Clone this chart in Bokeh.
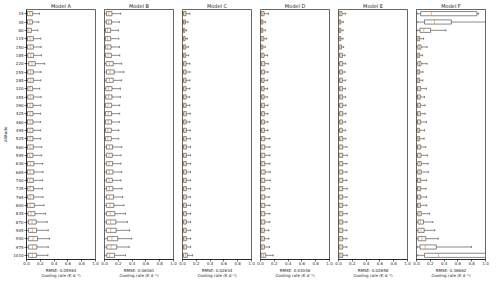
from bokeh.plotting import figure
from bokeh.models import ColumnDataSource, FactorRange, FixedTicker, PrintfTickFormatter, Range1d
from bokeh.layouts import row
from bokeh.embed import file_html
from bokeh.resources import INLINE

altitudes = ["15", "45", "80", "115", "150", "185", "220", "255", "285", "320",
             "355", "390", "425", "460", "495", "525", "560", "595", "630", "665",
             "700", "735", "765", "800", "835", "870", "905", "940", "975", "1010"]
models = ["Model A", "Model B", "Model C", "Model D", "Model E", "Model F"]
rmse = ["0.05984", "0.06361", "0.02634", "0.03046", "0.02658", "0.36662"]
x_ticks = [0.0, 0.2, 0.4, 0.6, 0.8, 1.0]

# Model A
A_lo = [0.0, 0.0, 0.0, 0.0, 0.0, 0.0, 0.0, 0.0, 0.0, 0.0, 0.0, 0.0, 0.0, 0.0, 0.0,
        0.0, 0.0, 0.0, 0.0, 0.0, 0.0, 0.0, 0.0, 0.0, 0.0, 0.0, 0.0, 0.0, 0.0, 0.0]
A_q1 = [0.014, 0.014, 0.005, 0.014, 0.014, 0.019, 0.033, 0.019, 0.019, 0.019,
        0.019, 0.014, 0.014, 0.014, 0.014, 0.014, 0.014, 0.014, 0.014, 0.014,
        0.014, 0.019, 0.019, 0.014, 0.023, 0.028, 0.028, 0.028, 0.028, 0.028]
A_med = [0.052, 0.047, 0.033, 0.052, 0.056, 0.061, 0.080, 0.061, 0.061, 0.052,
         0.056, 0.052, 0.052, 0.052, 0.052, 0.052, 0.052, 0.047, 0.056, 0.052,
         0.047, 0.052, 0.056, 0.052, 0.066, 0.080, 0.085, 0.094, 0.089, 0.085]
A_q3 = [0.089, 0.085, 0.070, 0.099, 0.099, 0.103, 0.127, 0.099, 0.099, 0.089,
        0.099, 0.094, 0.094, 0.094, 0.094, 0.094, 0.099, 0.094, 0.108, 0.108,
        0.099, 0.103, 0.103, 0.113, 0.122, 0.141, 0.146, 0.160, 0.150, 0.146]
A_hi = [0.188, 0.178, 0.164, 0.207, 0.211, 0.216, 0.263, 0.211, 0.207, 0.192,
        0.211, 0.207, 0.202, 0.202, 0.202, 0.202, 0.221, 0.221, 0.235, 0.239,
        0.230, 0.230, 0.239, 0.254, 0.277, 0.300, 0.315, 0.333, 0.315, 0.310]

# Model B
B_lo = [0.0, 0.0, 0.0, 0.0, 0.0, 0.0, 0.0, 0.0, 0.0, 0.0, 0.0, 0.0, 0.0, 0.0, 0.0,
        0.0, 0.0, 0.0, 0.0, 0.0, 0.0, 0.0, 0.0, 0.0, 0.0, 0.0, 0.0, 0.0, 0.0, 0.0]
B_q1 = [0.028, 0.028, 0.014, 0.014, 0.014, 0.014, 0.023, 0.028, 0.023, 0.019,
        0.019, 0.014, 0.014, 0.014, 0.014, 0.014, 0.028, 0.028, 0.028, 0.028,
        0.028, 0.028, 0.028, 0.028, 0.028, 0.028, 0.028, 0.042, 0.033, 0.033]
B_med = [0.061, 0.061, 0.042, 0.042, 0.047, 0.052, 0.070, 0.080, 0.070, 0.056,
         0.056, 0.052, 0.052, 0.052, 0.047, 0.047, 0.070, 0.066, 0.066, 0.070,
         0.066, 0.070, 0.070, 0.080, 0.085, 0.089, 0.089, 0.108, 0.094, 0.075]
B_q3 = [0.108, 0.103, 0.089, 0.089, 0.094, 0.099, 0.127, 0.141, 0.127, 0.108,
        0.108, 0.103, 0.103, 0.103, 0.099, 0.099, 0.117, 0.113, 0.117, 0.122,
        0.113, 0.122, 0.131, 0.136, 0.150, 0.164, 0.169, 0.192, 0.178, 0.146]
B_hi = [0.235, 0.216, 0.202, 0.207, 0.216, 0.221, 0.249, 0.282, 0.249, 0.230,
        0.230, 0.221, 0.221, 0.216, 0.207, 0.207, 0.249, 0.239, 0.239, 0.249,
        0.239, 0.254, 0.263, 0.282, 0.305, 0.333, 0.362, 0.394, 0.357, 0.305]

# Model C
C_lo = [0.0, 0.0, 0.0, 0.0, 0.0, 0.0, 0.0, 0.0, 0.0, 0.0, 0.0, 0.0, 0.0, 0.0, 0.0,
        0.0, 0.0, 0.0, 0.0, 0.0, 0.0, 0.0, 0.0, 0.0, 0.0, 0.0, 0.0, 0.0, 0.0, 0.0]
C_q1 = [0.014, 0.014, 0.014, 0.014, 0.014, 0.014, 0.014, 0.014, 0.014, 0.014,
        0.014, 0.014, 0.014, 0.014, 0.014, 0.014, 0.014, 0.014, 0.014, 0.014,
        0.014, 0.014, 0.014, 0.014, 0.014, 0.014, 0.014, 0.014, 0.014, 0.014]
C_med = [0.033, 0.028, 0.023, 0.023, 0.028, 0.028, 0.033, 0.033, 0.033, 0.033,
         0.033, 0.033, 0.033, 0.033, 0.033, 0.033, 0.033, 0.033, 0.033, 0.033,
         0.033, 0.033, 0.033, 0.033, 0.033, 0.033, 0.033, 0.033, 0.033, 0.042]
C_q3 = [0.052, 0.042, 0.033, 0.038, 0.047, 0.047, 0.052, 0.052, 0.052, 0.052,
        0.052, 0.052, 0.056, 0.052, 0.056, 0.056, 0.056, 0.056, 0.056, 0.056,
        0.056, 0.056, 0.056, 0.056, 0.056, 0.056, 0.056, 0.056, 0.056, 0.070]
C_hi = [0.108, 0.080, 0.061, 0.070, 0.085, 0.089, 0.108, 0.108, 0.108, 0.108,
        0.103, 0.108, 0.113, 0.108, 0.113, 0.113, 0.117, 0.117, 0.117, 0.117,
        0.117, 0.117, 0.113, 0.117, 0.117, 0.117, 0.117, 0.117, 0.117, 0.146]

# Model D
D_lo = [0.0, 0.0, 0.0, 0.0, 0.0, 0.0, 0.0, 0.0, 0.0, 0.0, 0.0, 0.0, 0.0, 0.0, 0.0,
        0.0, 0.0, 0.0, 0.0, 0.0, 0.0, 0.0, 0.0, 0.0, 0.0, 0.0, 0.0, 0.0, 0.0, 0.0]
D_q1 = [0.009, 0.009, 0.009, 0.009, 0.009, 0.009, 0.014, 0.014, 0.014, 0.014,
        0.014, 0.014, 0.014, 0.014, 0.014, 0.014, 0.009, 0.009, 0.009, 0.009,
        0.009, 0.009, 0.009, 0.009, 0.009, 0.009, 0.009, 0.009, 0.009, 0.009]
D_med = [0.030, 0.020, 0.020, 0.028, 0.020, 0.030, 0.035, 0.035, 0.033, 0.033,
         0.033, 0.035, 0.035, 0.035, 0.035, 0.038, 0.035, 0.035, 0.035, 0.038,
         0.035, 0.035, 0.035, 0.035, 0.035, 0.035, 0.033, 0.033, 0.033, 0.042]
D_q3 = [0.052, 0.033, 0.033, 0.047, 0.033, 0.052, 0.061, 0.056, 0.052, 0.052,
        0.052, 0.056, 0.056, 0.056, 0.056, 0.061, 0.061, 0.061, 0.061, 0.066,
        0.061, 0.061, 0.061, 0.061, 0.061, 0.061, 0.056, 0.056, 0.056, 0.075]
D_hi = [0.117, 0.070, 0.070, 0.089, 0.070, 0.103, 0.113, 0.108, 0.103, 0.103,
        0.099, 0.108, 0.108, 0.108, 0.108, 0.136, 0.136, 0.136, 0.136, 0.141,
        0.141, 0.131, 0.127, 0.136, 0.136, 0.136, 0.122, 0.122, 0.131, 0.183]

# Model E
E_lo = [0.0, 0.0, 0.0, 0.0, 0.0, 0.0, 0.0, 0.0, 0.0, 0.0, 0.0, 0.0, 0.0, 0.0, 0.0,
        0.0, 0.0, 0.0, 0.0, 0.0, 0.0, 0.0, 0.0, 0.0, 0.0, 0.0, 0.0, 0.0, 0.0, 0.0]
E_q1 = [0.009, 0.009, 0.009, 0.009, 0.009, 0.014, 0.014, 0.014, 0.014, 0.014,
        0.014, 0.014, 0.014, 0.014, 0.014, 0.014, 0.009, 0.009, 0.009, 0.009,
        0.009, 0.009, 0.009, 0.009, 0.009, 0.009, 0.009, 0.009, 0.009, 0.009]
E_med = [0.030, 0.020, 0.020, 0.020, 0.024, 0.033, 0.035, 0.033, 0.033, 0.033,
         0.033, 0.035, 0.035, 0.033, 0.033, 0.035, 0.035, 0.035, 0.035, 0.035,
         0.035, 0.035, 0.035, 0.035, 0.035, 0.035, 0.035, 0.035, 0.035, 0.035]
E_q3 = [0.052, 0.033, 0.033, 0.033, 0.042, 0.056, 0.061, 0.056, 0.056, 0.056,
        0.056, 0.061, 0.061, 0.056, 0.056, 0.061, 0.061, 0.061, 0.061, 0.061,
        0.061, 0.061, 0.061, 0.061, 0.061, 0.061, 0.061, 0.061, 0.061, 0.061]
E_hi = [0.103, 0.070, 0.066, 0.066, 0.075, 0.094, 0.103, 0.094, 0.103, 0.103,
        0.103, 0.108, 0.108, 0.103, 0.103, 0.108, 0.122, 0.127, 0.122, 0.122,
        0.122, 0.127, 0.122, 0.122, 0.127, 0.122, 0.122, 0.122, 0.122, 0.127]

# Model F
F_lo = [0.010, 0.010, 0.010, 0.0, 0.0, 0.0, 0.0, 0.0, 0.0, 0.0, 0.0, 0.0, 0.0, 0.0, 0.0,
        0.0, 0.0, 0.0, 0.0, 0.0, 0.0, 0.0, 0.0, 0.0, 0.0, 0.0, 0.0, 0.0, 0.010, 0.010]
F_q1 = [0.060, 0.116, 0.051, 0.009, 0.019, 0.009, 0.019, 0.009, 0.009, 0.014,
        0.014, 0.014, 0.014, 0.014, 0.009, 0.009, 0.014, 0.014, 0.019, 0.019,
        0.014, 0.014, 0.014, 0.014, 0.019, 0.023, 0.023, 0.023, 0.051, 0.116]
F_med = [0.218, 0.260, 0.106, 0.028, 0.042, 0.028, 0.042, 0.028, 0.028, 0.035,
         0.033, 0.033, 0.033, 0.035, 0.028, 0.028, 0.035, 0.037, 0.042, 0.042,
         0.035, 0.035, 0.035, 0.033, 0.042, 0.056, 0.065, 0.079, 0.125, 0.320]
F_q3 = [0.875, 0.505, 0.204, 0.046, 0.065, 0.046, 0.065, 0.046, 0.046, 0.060,
        0.056, 0.056, 0.056, 0.060, 0.046, 0.046, 0.060, 0.065, 0.069, 0.069,
        0.060, 0.060, 0.060, 0.056, 0.069, 0.102, 0.111, 0.134, 0.287, 1.050]
F_hi = [0.900, 1.200, 0.426, 0.102, 0.153, 0.088, 0.153, 0.093, 0.093, 0.144,
        0.116, 0.125, 0.125, 0.144, 0.116, 0.111, 0.134, 0.157, 0.167, 0.171,
        0.144, 0.139, 0.144, 0.148, 0.190, 0.236, 0.264, 0.315, 0.796, 1.300]

panels = [
    (A_lo, A_q1, A_med, A_q3, A_hi),
    (B_lo, B_q1, B_med, B_q3, B_hi),
    (C_lo, C_q1, C_med, C_q3, C_hi),
    (D_lo, D_q1, D_med, D_q3, D_hi),
    (E_lo, E_q1, E_med, E_q3, E_hi),
    (F_lo, F_q1, F_med, F_q3, F_hi),
]

FONT = "DejaVu Sans"
TXT = "#222222"
LC = "#3a3a3a"
LW = 0.6


def make_panel(idx):
    lo, q1, med, q3, hi = panels[idx]
    first = idx == 0
    p = figure(frame_width=69, height=280,
               x_range=Range1d(0, 1),
               y_range=FactorRange(factors=altitudes[::-1]),
               output_backend="svg", toolbar_location=None,
               title=models[idx],
               min_border_left=0 if first else 4, min_border_right=5,
               min_border_top=0, min_border_bottom=0)
    p.title.align = "center"
    p.title.text_font = FONT
    p.title.text_font_size = "5px"
    p.title.text_font_style = "normal"
    p.title.text_color = TXT
    p.title.standoff = 1
    p.title.offset = 0

    src = ColumnDataSource(dict(
        alt=altitudes, lo=lo, q1=q1, med=med, q3=q3, hi=hi,
        ylo=[(a, -0.25) for a in altitudes],
        yhi=[(a, 0.25) for a in altitudes],
        clo=[(a, -0.125) for a in altitudes],
        chi=[(a, 0.125) for a in altitudes],
    ))
    # whiskers
    p.segment(x0="q3", y0="alt", x1="hi", y1="alt", source=src, line_color=LC, line_width=LW)
    p.segment(x0="lo", y0="alt", x1="q1", y1="alt", source=src, line_color=LC, line_width=LW)
    # caps
    p.segment(x0="hi", y0="clo", x1="hi", y1="chi", source=src, line_color=LC, line_width=LW)
    p.segment(x0="lo", y0="clo", x1="lo", y1="chi", source=src, line_color=LC, line_width=LW)
    # boxes
    p.hbar(y="alt", left="q1", right="q3", height=0.5, source=src,
           fill_color="white", line_color=LC, line_width=LW)
    # medians
    p.segment(x0="med", y0="ylo", x1="med", y1="yhi", source=src, line_color="#ff7f0e", line_width=LW)

    p.xgrid.visible = False
    p.ygrid.visible = False
    p.outline_line_color = "black"
    p.outline_line_width = LW
    p.outline_line_alpha = 1

    xa = p.xaxis[0]
    xa.ticker = FixedTicker(ticks=x_ticks)
    xa.formatter = PrintfTickFormatter(format="%.1f")
    xa.major_label_text_font = FONT
    xa.major_label_text_font_size = "4px"
    xa.major_label_text_color = TXT
    xa.major_tick_in = 0
    xa.major_tick_out = 2
    xa.minor_tick_in = 0
    xa.minor_tick_out = 0
    xa.major_label_standoff = 0
    xa.axis_line_color = "black"
    xa.axis_line_width = LW
    xa.major_tick_line_width = LW
    xa.axis_label = "RMSE: " + rmse[idx] + "\nCooling rate (K d\u207b\u00b9)"
    xa.axis_label_text_font = FONT
    xa.axis_label_text_font_size = "4px"
    xa.axis_label_text_font_style = "normal"
    xa.axis_label_text_color = TXT
    xa.axis_label_text_line_height = 1.0
    xa.axis_label_standoff = 0

    ya = p.yaxis[0]
    if first:
        ya.major_label_text_font = FONT
        ya.major_label_text_font_size = "4px"
        ya.major_label_text_color = TXT
        ya.major_tick_in = 0
        ya.major_tick_out = 2
        ya.major_label_standoff = 1
        ya.axis_line_color = "black"
        ya.axis_line_width = LW
        ya.major_tick_line_width = LW
        ya.axis_label = "Altitude"
        ya.axis_label_text_font = FONT
        ya.axis_label_text_font_size = "4px"
        ya.axis_label_text_font_style = "normal"
        ya.axis_label_text_color = TXT
        ya.axis_label_standoff = 2
    else:
        ya.visible = False
    return p


figs = [make_panel(i) for i in range(6)]
layout = row(*figs)
open("out.html", "w").write(file_html(layout, INLINE))
